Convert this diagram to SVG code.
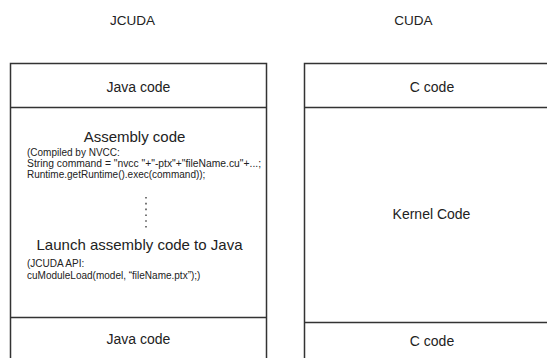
<svg xmlns="http://www.w3.org/2000/svg" width="547" height="358" viewBox="0 0 547 358">
<style>
.box{fill:#fff;stroke:#333;stroke-width:1.5}
.ln{stroke:#333;stroke-width:1.5}
text{font-family:"Liberation Sans",Arial,sans-serif;fill:#222}
.t{font-size:14px;text-anchor:middle}
.big{font-size:15px;text-anchor:middle}
.s{font-size:10px}
</style>
<rect width="547" height="358" fill="#fff"/>
<text class="t" x="132.5" y="25" style="font-size:13.5px">JCUDA</text>
<text class="t" x="413.5" y="25" style="font-size:13.5px">CUDA</text>
<g id="jcuda">
<rect class="box" x="10.5" y="63.5" width="256" height="310"/>
<g id="java-top">
<line class="ln" x1="10.5" y1="107.5" x2="266.5" y2="107.5"/>
<text class="t" x="138.5" y="92">Java code</text>
</g>
<g id="assembly">
<text class="big" x="134.5" y="141.5">Assembly code</text>
<text class="s" x="27" y="156">(Compiled by NVCC:</text>
<text class="s" x="27" y="167" textLength="234" lengthAdjust="spacingAndGlyphs">String command = "nvcc "+"-ptx"+"fileName.cu"+...;</text>
<text class="s" x="27" y="177.5">Runtime.getRuntime().exec(command));</text>
<line x1="146" y1="197" x2="146" y2="228" stroke="#555" stroke-width="1.6" stroke-dasharray="1.6,4.2"/>
<text class="big" x="139.5" y="250">Launch assembly code to Java</text>
<text class="s" x="27" y="266.5">(JCUDA API:</text>
<text class="s" x="27" y="279">cuModuleLoad(model, “fileName.ptx”);)</text>
</g>
<g id="java-bottom">
<line class="ln" x1="10.5" y1="317.5" x2="266.5" y2="317.5"/>
<text class="t" x="138.5" y="344">Java code</text>
</g>
</g>
<g id="cuda">
<rect class="box" x="304.5" y="63.5" width="260" height="310"/>
<g id="c-top">
<line class="ln" x1="304.5" y1="107.5" x2="547" y2="107.5"/>
<text class="t" x="432" y="92">C code</text>
</g>
<g id="kernel">
<text class="t" x="431.5" y="219">Kernel Code</text>
</g>
<g id="c-bottom">
<line class="ln" x1="304.5" y1="322.5" x2="547" y2="322.5"/>
<text class="t" x="432" y="346">C code</text>
</g>
</g>
<g id="connectors"/>
</svg>
